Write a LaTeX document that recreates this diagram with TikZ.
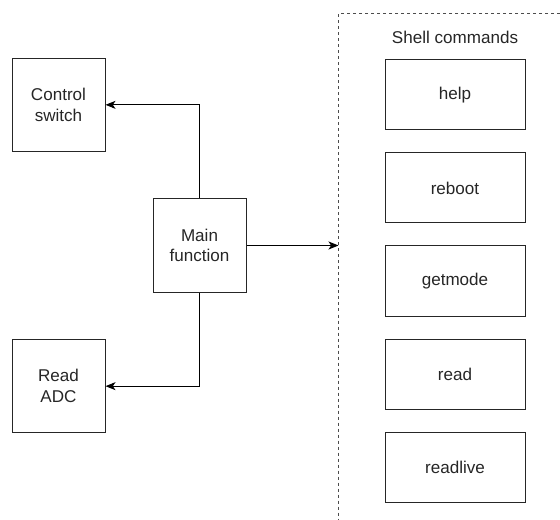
\documentclass[tikz,border=0pt]{standalone}
\usepackage{fontspec}
\setmainfont{Liberation Sans}
\usetikzlibrary{arrows.meta, positioning}
\tikzstyle{block_node} = [rectangle, draw=black!85, line width=0.75pt, minimum width=69.75pt, minimum height=69.75pt, align=center, font=\fontsize{12.8}{15.5}\selectfont, inner sep=0pt, text=black!85]
\tikzstyle{cmd_node} = [rectangle, draw=black!85, line width=0.75pt, minimum width=105pt, minimum height=52.5pt, align=center, font=\fontsize{12.8}{15.5}\selectfont, inner sep=0pt, text=black!85]
\tikzstyle{call_arrow} = [line width=0.75pt, -{Stealth[length=7.5pt, width=6pt, inset=2pt]}]
\tikzstyle{group_line} = [line width=0.75pt, black!70, dash pattern=on 2.25pt off 2.25pt]

\begin{document}
\begin{tikzpicture}[x=0.75pt, y=-0.75pt, node distance=16.5pt]
\useasboundingbox (0,0) rectangle (560,520);

\node (mainfn) [block_node] at (199.5,245.5) {Main\\function};
\node (ctrlsw) [block_node, above left=35pt and 35.25pt of mainfn] {Control\\switch};
\node (readadc) [block_node, below left=35pt and 35.25pt of mainfn] {Read\\ADC};

% Gruppe der Shell-Kommandos (Rahmen rechts/unten abgeschnitten)
\coordinate (grp_nw) at (338.5,14);
\draw [group_line] (560,14) -- (grp_nw) -- (338.5,520);
\node (grp_title) [font=\fontsize{12.8}{15}\selectfont, text=black!85] at (455,37) {Shell commands};

\node (help) [cmd_node] at (455,95) {help};
\node (reboot) [cmd_node, below=of help] {reboot};
\node (getmode) [cmd_node, below=of reboot] {getmode};
\node (read) [cmd_node, below=of getmode] {read};
\node (readlive) [cmd_node, below=of read] {readlive};

\coordinate (grp_in) at (mainfn.east -| grp_nw);

\draw [call_arrow] (mainfn.north) |- (ctrlsw.east);
\draw [call_arrow] (mainfn.south) |- (readadc.east);
\draw [call_arrow] (mainfn.east) -- (grp_in);
\end{tikzpicture}
\end{document}
